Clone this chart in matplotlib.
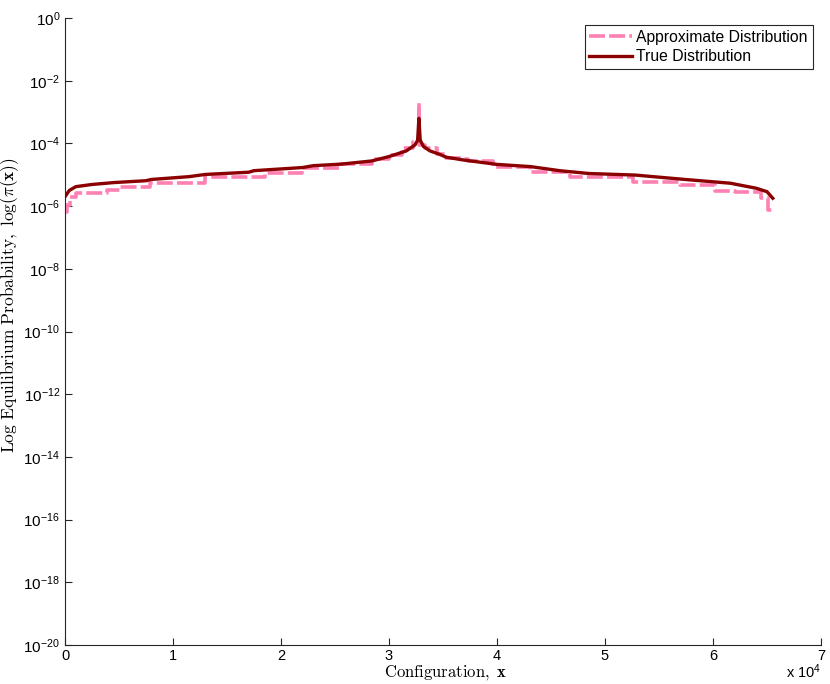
import numpy as np
import matplotlib
matplotlib.use("Agg")
import matplotlib.pyplot as plt

plt.rcParams['font.family'] = ['Liberation Sans', 'DejaVu Sans']
plt.rcParams['mathtext.fontset'] = 'cm'
plt.rcParams['lines.scale_dashes'] = False

# ---- data (log10 of probability) ----
true_x = [0, 400, 1000, 2500, 4500, 7500, 8000, 11500, 13000, 17000, 17500,
          22000, 23000, 25600, 28400, 30000, 31600, 32400, 32650, 32768,
          32890, 33200, 33800, 34700, 35300, 36900, 40000, 43100, 45800,
          48500, 52800, 57400, 61600, 64000, 65000, 65535]
true_log = [-5.70, -5.50, -5.38, -5.31, -5.25, -5.19, -5.15, -5.06, -4.99, -4.92, -4.87,
            -4.77, -4.71, -4.66, -4.56, -4.42, -4.24, -4.05, -3.90, -3.20,
            -3.90, -4.10, -4.24, -4.35, -4.44, -4.53, -4.67, -4.74, -4.87,
            -4.96, -5.01, -5.15, -5.27, -5.43, -5.54, -5.75]

approx_x = [0, 150, 450, 1000, 3900, 5100, 7900, 13000, 18500, 21900, 25600,
            28400, 30000, 31200, 32200, 32768, 32790, 33300, 34400, 35300,
            36900, 37300, 39600, 43100, 46800, 52600, 56900, 60200, 62000,
            64400, 65100, 65535]
approx_log = [-6.18, -5.97, -5.70, -5.57, -5.49, -5.40, -5.25, -5.08, -4.96, -4.80, -4.66,
              -4.50, -4.37, -4.14, -3.95, -2.72, -4.05, -4.16, -4.34, -4.45,
              -4.51, -4.57, -4.74, -4.92, -5.08, -5.24, -5.33, -5.51, -5.56,
              -5.75, -6.12, -6.12]

xtick_vals = [0, 10000, 20000, 30000, 40000, 50000, 60000, 70000]
xtick_labels = ['0', '1', '2', '3', '4', '5', '6', '7']
ytick_exps = [0, -2, -4, -6, -8, -10, -12, -14, -16, -18, -20]

fig = plt.figure(figsize=(8.3, 6.84), dpi=100)
ax = fig.add_axes([65/830, 1-645/684, (821-65)/830, (645-18)/684])

ax.plot(approx_x, 10.0**np.array(approx_log), color='#ff80b3', lw=2.6,
        dashes=(11.5, 3.0), drawstyle='steps-post', label='Approximate Distribution',
        solid_joinstyle='miter')
ax.plot(true_x, 10.0**np.array(true_log), color='#8b0000', lw=2.4,
        label='True Distribution')

ax.set_yscale('log')
ax.set_xlim(0, 70000)
ax.set_ylim(1e-20, 1e0)
ax.set_xticks(xtick_vals)
ax.set_xticklabels(xtick_labels, fontsize=10.5)
ax.set_yticks([10.0**e for e in ytick_exps])
ax.set_yticklabels([r'$\mathregular{10^{%d}}$' % e for e in ytick_exps], fontsize=11)
ax.minorticks_off()
ax.tick_params(direction='in', length=5, width=0.8, colors='#262626', labelcolor='black')
ax.tick_params(axis='x', pad=3)
ax.spines['top'].set_visible(False)
ax.spines['right'].set_visible(False)
for s in ('left', 'bottom'):
    ax.spines[s].set_color('#262626')
    ax.spines[s].set_linewidth(0.8)

ax.set_xlabel(r'$\mathrm{Configuration,\ }\mathbf{x}$', fontsize=12)
ax.xaxis.set_label_coords(0.503, -0.029)
ax.set_ylabel(r'$\mathrm{Log\ Equilibrium\ Probability,\ }\log(\pi(\mathbf{x}))$',
              fontsize=12.5)
ax.yaxis.set_label_coords(-0.058, 0.542)
fig.text(821/830, 3/684, r'$\mathregular{x\ 10^{4}}$', ha='right', va='bottom', fontsize=10.5)

leg = ax.legend(loc='upper right', bbox_to_anchor=(0.989, 0.989), borderaxespad=0,
                fontsize=11.3, handlelength=2.7, handletextpad=0.3, labelspacing=0.3,
                borderpad=0.3, fancybox=False, framealpha=1)
leg.get_frame().set_edgecolor('#262626')
leg.get_frame().set_linewidth(0.8)

fig.savefig('out.png', dpi=100)
